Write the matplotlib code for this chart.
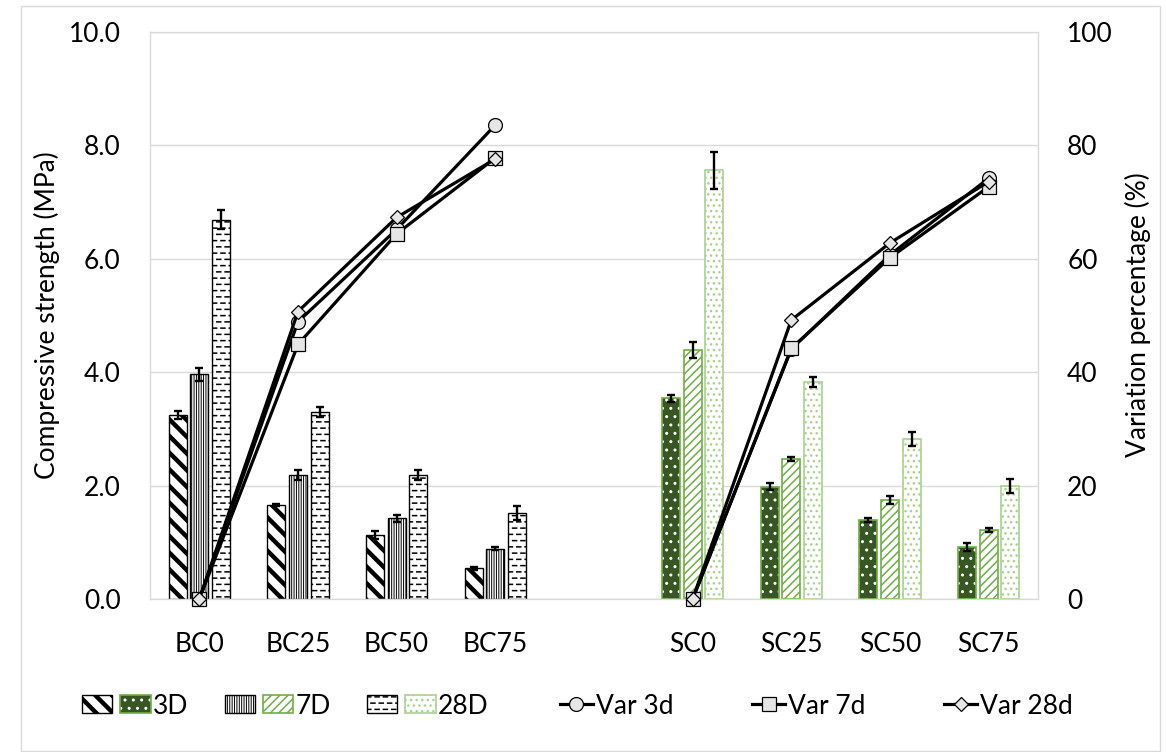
import warnings
warnings.filterwarnings('ignore')
import numpy as np
import matplotlib
matplotlib.use('Agg')
import matplotlib.pyplot as plt
import matplotlib.colors as mcolors
from matplotlib.patches import Rectangle
from matplotlib.lines import Line2D
from matplotlib.legend_handler import HandlerBase
from matplotlib.ticker import FormatStrFormatter

# ---------------- data ----------------
categories = ['BC0', 'BC25', 'BC50', 'BC75', 'SC0', 'SC25', 'SC50', 'SC75']
str_3d = [3.25, 1.66, 1.13, 0.54, 3.54, 1.98, 1.39, 0.92]
err_3d = [0.07, 0.02, 0.07, 0.03, 0.065, 0.065, 0.03, 0.07]
str_7d = [3.96, 2.19, 1.42, 0.89, 4.39, 2.47, 1.75, 1.22]
err_7d = [0.12, 0.09, 0.06, 0.02, 0.14, 0.03, 0.07, 0.04]
str_28d = [6.69, 3.30, 2.19, 1.52, 7.56, 3.83, 2.82, 1.99]
err_28d = [0.17, 0.09, 0.09, 0.12, 0.33, 0.09, 0.12, 0.12]
var_3d = [0, 48.9, 65.2, 83.6, 0, 44.1, 60.7, 74.2]
var_7d = [0, 44.9, 64.4, 77.8, 0, 44.2, 60.2, 72.7]
var_28d = [0, 50.7, 67.3, 77.6, 0, 49.2, 62.8, 73.6]
series_labels = ['3D', '7D', '28D']
line_labels = ['Var 3d', 'Var 7d', 'Var 28d']

# ---------------- custom dashed hatch ----------------
DASH = '-'
try:
    import matplotlib.hatch as mhatch

    class DashHatch(mhatch.HatchPatternBase):
        ROWS = 16
        COLS = 12
        LEN = 0.04

        def __init__(self, hatch, density):
            self.on = '=' in hatch
            self.num_vertices = self.ROWS * self.COLS * 2 if self.on else 0

        def set_vertices_and_codes(self, vertices, codes):
            k = 0
            for r in range(self.ROWS):
                yv = (r + 0.5) / self.ROWS
                shift = 0.5 if r % 2 else 0.0
                for c in range(self.COLS):
                    x0 = (c + shift) / self.COLS + 0.001
                    vertices[k] = (x0, yv)
                    vertices[k + 1] = (x0 + self.LEN, yv)
                    codes[k] = 1  # MOVETO
                    codes[k + 1] = 2  # LINETO
                    k += 2

    mhatch._hatch_types.append(DashHatch)
    DASH = '='
except Exception:
    DASH = '-'

plt.rcParams['font.family'] = ['Lato', 'DejaVu Sans']
FS = 19

fig = plt.figure(figsize=(11.66, 7.52), dpi=100)
ax = fig.add_axes([150 / 1166, 153 / 752, 888 / 1166, 567 / 752])

x = np.r_[np.arange(4), np.arange(4) + 5].astype(float)
W = 0.18
OFF = 0.22
bc = slice(0, 4)
sc = slice(4, 8)

bc_styles = [
    dict(face='white', edge='black', hatch='\\\\', hlw=3.2, lw=1.0),
    dict(face='white', edge='black', hatch='|' * 7, hlw=0.7, lw=1.0),
    dict(face='white', edge='black', hatch=DASH, hlw=1.1, lw=1.0),
]
sc_styles = [
    dict(face='#375623', edge='#70AD47', hatch='..', hlw=1.0, lw=1.2, hcolor='white'),
    dict(face='white', edge='#70AD47', hatch='////', hlw=1.1, lw=1.2),
    dict(face='white', edge='#A9D18E', hatch='...', hlw=1.0, lw=1.2),
]


def styled_bar(xs, hs, st):
    with plt.rc_context({'hatch.linewidth': st['hlw']}):
        bars = ax.bar(xs, hs, W, facecolor=st['face'], edgecolor=st['edge'],
                      hatch=st['hatch'], linewidth=st['lw'], zorder=2)
    for p in bars:
        if hasattr(p, 'set_hatch_linewidth'):
            p.set_hatch_linewidth(st['hlw'])
        if 'hcolor' in st:
            p._hatch_color = mcolors.to_rgba(st['hcolor'])
    return bars


vals_all = [str_3d, str_7d, str_28d]
errs_all = [err_3d, err_7d, err_28d]
bc_bars, sc_bars = [], []
for i, (vals, errs) in enumerate(zip(vals_all, errs_all)):
    vals = np.array(vals)
    errs = np.array(errs)
    xo = x + (i - 1) * OFF
    bc_bars.append(styled_bar(xo[bc], vals[bc], bc_styles[i]))
    sc_bars.append(styled_bar(xo[sc], vals[sc], sc_styles[i]))
    ax.errorbar(xo, vals, yerr=errs, fmt='none', ecolor='black',
                elinewidth=1.7, capsize=2.6, capthick=1.7, zorder=4)

ax.set_xlim(-0.5, 8.5)
ax.set_ylim(0, 10)
ax.set_yticks(np.arange(0, 10.01, 2))
ax.yaxis.set_major_formatter(FormatStrFormatter('%.1f'))
ax.set_xticks(x)
ax.set_xticklabels(categories)
ax.grid(axis='y', color='#D9D9D9', lw=1.0)
ax.set_axisbelow(True)
ax.tick_params(axis='y', length=0, pad=21, labelsize=FS)
ax.tick_params(axis='x', length=0, pad=24, labelsize=FS)
for s in ax.spines.values():
    s.set_color('#D9D9D9')
    s.set_linewidth(1.0)

# ---------------- variation lines ----------------
ax2 = ax.twinx()
ax2.set_ylim(0, 100)
ax2.set_yticks(np.arange(0, 101, 20))
ax2.tick_params(axis='y', length=0, pad=21, labelsize=FS)
for s in ax2.spines.values():
    s.set_visible(False)

line_styles = [('o', 10), ('s', 9.4), ('D', 6.8)]
line_handles = []
for vals, (mk, ms), lab in zip([var_3d, var_7d, var_28d], line_styles, line_labels):
    vals = np.array(vals, dtype=float)
    for sl in (bc, sc):
        ax2.plot(x[sl], vals[sl], color='black', lw=2.3, marker=mk, ms=ms,
                 mfc='#E6E6E6', mec='black', mew=0.9, clip_on=False, zorder=3)
    line_handles.append(Line2D([], [], color='black', lw=2.3, marker=mk, ms=ms,
                               mfc='#E6E6E6', mec='black', mew=0.9))

# ---------------- axis labels ----------------
fig.text(47 / 1166, 1 - 315 / 752, 'Compressive strength (MPa)', rotation=90,
         ha='center', va='center', fontsize=FS)
fig.text(1138 / 1166, 1 - 315 / 752, 'Variation percentage (%)', rotation=90,
         ha='center', va='center', fontsize=FS)


# ---------------- legends ----------------
class BarPair:
    def __init__(self, a, b):
        self.a = a
        self.b = b


class PairHandler(HandlerBase):
    def __init__(self, gap=0.116, **kw):
        super().__init__(**kw)
        self.gap = gap

    def create_artists(self, legend, orig, xdescent, ydescent, width, height,
                       fontsize, trans):
        gap = width * self.gap
        w = (width - gap) / 2
        arts = []
        for i, src in enumerate((orig.a, orig.b)):
            r = Rectangle((-xdescent + i * (w + gap), -ydescent), w, height)
            r.update_from(src)
            r._hatch_color = src._hatch_color
            if hasattr(src, 'get_hatch_linewidth'):
                r.set_hatch_linewidth(src.get_hatch_linewidth())
            r.set_clip_on(False)
            r.set_clip_box(None)
            r.set_clip_path(None)
            r.set_transform(trans)
            arts.append(r)
        return arts


pairs = [BarPair(bc_bars[i].patches[0], sc_bars[i].patches[0]) for i in range(3)]
fig.legend(pairs, series_labels, handler_map={BarPair: PairHandler()},
           loc='center left', bbox_to_anchor=(82 / 1166, 1 - 706 / 752),
           ncol=3, frameon=False, borderpad=0, borderaxespad=0,
           handlelength=2.6, handleheight=0.68, handletextpad=0.1,
           columnspacing=1.36, fontsize=FS)
fig.legend(line_handles, line_labels, loc='center left',
           bbox_to_anchor=(560 / 1166, 1 - 706 / 752), ncol=3, frameon=False,
           borderpad=0, borderaxespad=0, handlelength=1.25, handletextpad=0.1,
           columnspacing=3.0, numpoints=1, fontsize=FS)

# chart-area border
fig.add_artist(Rectangle((21 / 1166, 1 / 752), (1160 - 21) / 1166, (746 - 1) / 752,
                         transform=fig.transFigure, fill=False,
                         edgecolor='#D9D9D9', lw=1.0))

fig.savefig('out.png', dpi=100)
